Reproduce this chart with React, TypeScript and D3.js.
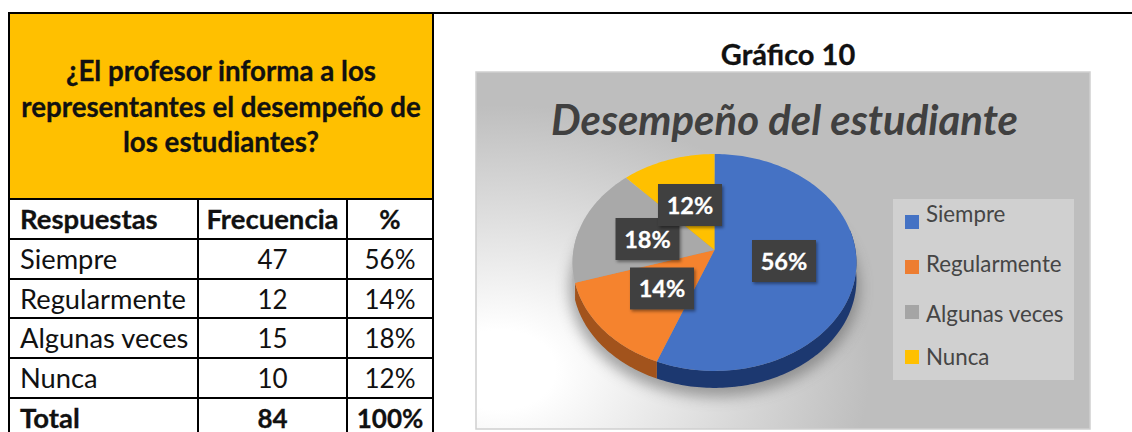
import React from "react";
import * as d3 from "d3";

const categories = ["Siempre", "Regularmente", "Algunas veces", "Nunca"];
const frequencies = [47, 12, 15, 10];
const percents = ["56%", "14%", "18%", "12%"];
const totalRow = ["Total", "84", "100%"];
const headerRow = ["Respuestas", "Frecuencia", "%"];
const questionLines = ["¿El profesor informa a los", "representantes el desempeño de", "los estudiantes?"];
const topColors = ["#4472c4", "#f5832e", "#a9a9a9", "#ffc000"];
const sideColors = ["#1d3770", "#a2521a", "#b4b4b4", "#b08500"];
const legendColors = ["#4472c4", "#ed7d31", "#a5a5a5", "#ffc000"];

const FONT = "Lato, Carlito, sans-serif";
const colX = [9, 198, 347, 433];
const rowY = [199, 239, 279, 318, 358, 398, 438];
const cx = 714.5, cy = 250, rx = 141, ry = 107, tilt = 0.115, depth = 17;
const labelCenters = [[784, 261], [662, 288.5], [647.5, 239], [690, 205]];
const legendTextY = [222, 272, 322, 365];
const swatchY = [215, 260, 305, 350];

export default function App() {
  const pie = d3.pie<number>().sort(null)(frequencies);
  const rim = (a: number): [number, number] => {
    const u = Math.sin(a), v = -Math.cos(a), w = 1 - tilt * v;
    return [cx + (rx * u) / w, cy + (ry * v) / w];
  };
  const sample = (s: number, e: number) => d3.range(s, e, 0.02).concat([e]);
  const line = d3.line<[number, number]>();
  const face = (s: number, e: number) =>
    (line([[cx, cy], ...sample(s, e).map(rim)]) as string) + "Z";
  const wall = (s: number, e: number) => {
    const a0 = Math.max(s, Math.PI / 2 - 0.2), a1 = Math.min(e, (3 * Math.PI) / 2 + 0.2);
    if (a1 <= a0) return null;
    return d3.area<number>()
      .x((a) => rim(a)[0])
      .y0((a) => rim(a)[1])
      .y1((a) => rim(a)[1] + depth)(sample(a0, a1));
  };
  const rows = categories.map((c, i) => [c, String(frequencies[i]), percents[i]]);
  const allRows = [headerRow, ...rows, totalRow];
  const colMid = (i: number) => (colX[i] + colX[i + 1]) / 2;
  return (
    <svg width={1132} height={432} style={{ position: "absolute", left: 0, top: 0, background: "#fff" }} fontFamily={FONT}>
      <defs>
        <radialGradient id="bg" gradientUnits="userSpaceOnUse" cx={0} cy={0} r={1}
          gradientTransform="translate(500 370) scale(370 265)">
          <stop offset="0.15" stopColor="#ffffff" />
          <stop offset="1" stopColor="#bebebe" />
        </radialGradient>
        <filter id="blur" x="-30%" y="-30%" width="160%" height="160%"><feGaussianBlur stdDeviation="7" /></filter>
        <filter id="soft" x="-5%" y="-5%" width="110%" height="110%"><feGaussianBlur stdDeviation="0.6" /></filter>
        <filter id="boxShadow" x="-20%" y="-20%" width="150%" height="150%">
          <feDropShadow dx="1.5" dy="2" stdDeviation="1.5" floodColor="#000" floodOpacity="0.4" />
        </filter>
      </defs>

      <rect x={9} y={13} width={424} height={186} fill="#ffc000" />
      {questionLines.map((l, i) => (
        <text key={l} x={221} y={81 + i * 35.5} textAnchor="middle" fontSize={27.7} fontWeight={700} fill="#111" stroke="#111" strokeWidth={0.3}>{l}</text>
      ))}
      {allRows.map((r, i) =>
        r.map((t, j) => {
          const bold = i === 0 || i === 5;
          const size = j === 0 || (i === 0 && j === 1) ? (bold ? 27.5 : 27.3) : 26;
          return (
            <text key={i + "-" + j} x={j === 0 ? 20 : colMid(j)} y={rowY[i] + 30} textAnchor={j === 0 ? "start" : "middle"}
              fontSize={size} fontWeight={bold ? 700 : 400} fill="#111" stroke={bold ? "#111" : "none"} strokeWidth={0.3}>{t}</text>
          );
        })
      )}
      <g stroke="#000" strokeWidth={2}>
        <line x1={9} x2={1132} y1={13} y2={13} />
        <line x1={9} x2={9} y1={12} y2={432} />
        <line x1={433} x2={433} y1={12} y2={432} />
        <line x1={198} x2={198} y1={199} y2={432} />
        <line x1={347} x2={347} y1={199} y2={432} />
        {rowY.slice(0, 6).map((y) => <line key={y} x1={9} x2={433} y1={y} y2={y} />)}
      </g>

      <text x={788} y={65} textAnchor="middle" fontSize={29} fontWeight={700} fill="#111" stroke="#111" strokeWidth={0.3}>Gráfico 10</text>
      <rect x={476} y={72} width={614} height={357} fill="url(#bg)" stroke="#cfcfcf" strokeWidth={1.5} />
      <text x={784.5} y={135} textAnchor="middle" fontSize={42} fontWeight={700} fontStyle="italic" fill="#404040"
        textLength={467} lengthAdjust="spacingAndGlyphs">Desempeño del estudiante</text>

      <ellipse cx={cx} cy={cy + 38} rx={rx + 4} ry={ry + 2} fill="#555" opacity={0.5} filter="url(#blur)" />
      <g filter="url(#soft)">
        {pie.map((d, i) => {
          const p = wall(d.startAngle, d.endAngle);
          return p ? <path key={i} d={p} fill={sideColors[i]} /> : null;
        })}
        {pie.map((d, i) => <path key={i} d={face(d.startAngle, d.endAngle)} fill={topColors[i]} />)}
      </g>

      {[0, 1, 2, 3].map((i) => {
        const [x, y] = labelCenters[i];
        return (
          <g key={i}>
            <rect x={x - 32} y={y - 21} width={64} height={42} fill="#404040" filter="url(#boxShadow)" />
            <text x={x} y={y + 8.5} textAnchor="middle" fontSize={23.5} fontWeight={700} fill="#fff" stroke="#fff" strokeWidth={0.3}>{percents[i]}</text>
          </g>
        );
      })}

      <rect x={893} y={199} width={181} height={181} fill="#d0d0d0" />
      {categories.map((c, i) => (
        <g key={c}>
          <rect x={905} y={swatchY[i]} width={14} height={14} fill={legendColors[i]} />
          <text x={926} y={legendTextY[i]} fontSize={22.3} fill="#454545">{c}</text>
        </g>
      ))}
    </svg>
  );
}
